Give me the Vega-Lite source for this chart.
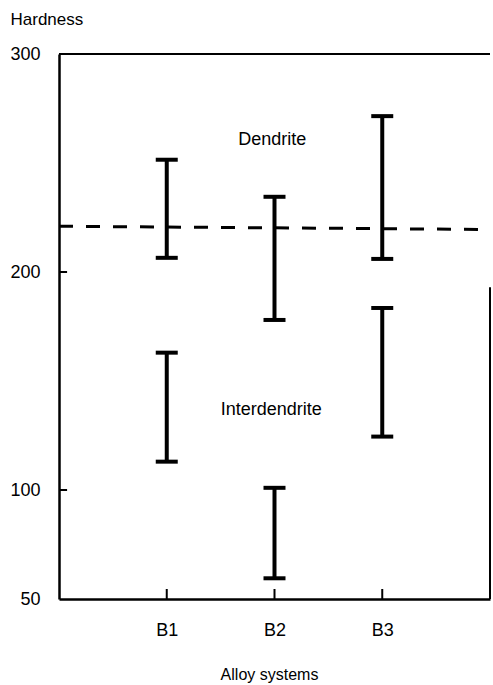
{
  "$schema": "https://vega.github.io/schema/vega-lite/v6.json",
  "width": 431,
  "height": 545,
  "autosize": "none",
  "padding": {"left": 59, "top": 54, "right": 3, "bottom": 86},
  "background": "white",
  "config": {"view": {"stroke": null}, "font": "Liberation Sans"},
  "datasets": {
    "bars": [
      {"alloy": "B1", "x": 1, "phase": "Dendrite", "low": 206.5, "high": 251.5},
      {"alloy": "B1", "x": 1, "phase": "Interdendrite", "low": 113, "high": 163},
      {"alloy": "B2", "x": 2, "phase": "Dendrite", "low": 178, "high": 234.5},
      {"alloy": "B2", "x": 2, "phase": "Interdendrite", "low": 59.5, "high": 101},
      {"alloy": "B3", "x": 3, "phase": "Dendrite", "low": 206, "high": 271.5},
      {"alloy": "B3", "x": 3, "phase": "Interdendrite", "low": 124.5, "high": 183.5}
    ],
    "boundary": [
      {"x": 0, "y": 221},
      {"x": 4, "y": 219.5}
    ],
    "labels": [
      {"x": 1.98, "y": 260.5, "text": "Dendrite"},
      {"x": 1.97, "y": 136.7, "text": "Interdendrite"}
    ],
    "frame": [
      {"x": 0, "x2": 4, "y": 300, "y2": 300},
      {"x": 4, "x2": 4, "y": 50, "y2": 193},
      {"x": 0, "x2": 0.075, "y": 100, "y2": 100},
      {"x": 0, "x2": 0.075, "y": 200, "y2": 200},
      {"x": 1, "x2": 1, "y": 50, "y2": 54.6},
      {"x": 2, "x2": 2, "y": 50, "y2": 54.6},
      {"x": 3, "x2": 3, "y": 50, "y2": 54.6}
    ]
  },
  "layer": [
    {
      "data": {"name": "bars"},
      "mark": {"type": "rule", "strokeWidth": 4, "color": "black"},
      "encoding": {
        "x": {
          "field": "x", "type": "quantitative", "title": "Alloy systems",
          "scale": {"domain": [0, 4], "nice": false, "zero": false},
          "axis": {
            "values": [1, 2, 3],
            "labelExpr": "'B' + datum.value",
            "grid": false, "ticks": false,
            "domainColor": "black", "domainWidth": 2.5,
            "labelPadding": 22, "labelFontSize": 18, "labelColor": "black",
            "titleFontSize": 16, "titleFontWeight": "normal", "titleColor": "black",
            "titleAlign": "center", "titleBaseline": "middle",
            "titleX": 210, "titleY": 75
          }
        },
        "y": {
          "field": "low", "type": "quantitative", "title": "Hardness",
          "scale": {"domain": [50, 300], "nice": false, "zero": false},
          "axis": {
            "values": [50, 100, 200, 300],
            "grid": false, "ticks": false,
            "domainColor": "black", "domainWidth": 2.5,
            "labelPadding": 19, "labelFontSize": 18, "labelColor": "black",
            "labelBaseline": "middle",
            "titleFontSize": 17, "titleFontWeight": "normal", "titleColor": "black",
            "titleAngle": 0, "titleAlign": "left", "titleBaseline": "middle",
            "titleX": -49, "titleY": -35
          }
        },
        "y2": {"field": "high"}
      }
    },
    {
      "data": {"name": "bars"},
      "mark": {"type": "tick", "orient": "horizontal", "size": 22, "thickness": 4, "color": "black", "opacity": 1},
      "encoding": {
        "x": {"field": "x", "type": "quantitative", "title": "Alloy systems"},
        "y": {"field": "low", "type": "quantitative", "title": "Hardness"}
      }
    },
    {
      "data": {"name": "bars"},
      "mark": {"type": "tick", "orient": "horizontal", "size": 22, "thickness": 4, "color": "black", "opacity": 1},
      "encoding": {
        "x": {"field": "x", "type": "quantitative", "title": "Alloy systems"},
        "y": {"field": "high", "type": "quantitative", "title": "Hardness"}
      }
    },
    {
      "data": {"name": "boundary"},
      "mark": {"type": "line", "strokeWidth": 3, "strokeDash": [14, 13], "color": "black"},
      "encoding": {
        "x": {"field": "x", "type": "quantitative", "title": "Alloy systems"},
        "y": {"field": "y", "type": "quantitative", "title": "Hardness"}
      }
    },
    {
      "data": {"name": "frame"},
      "mark": {"type": "rule", "strokeWidth": 2, "color": "black"},
      "encoding": {
        "x": {"field": "x", "type": "quantitative", "title": "Alloy systems"},
        "x2": {"field": "x2"},
        "y": {"field": "y", "type": "quantitative", "title": "Hardness"},
        "y2": {"field": "y2"}
      }
    },
    {
      "data": {"name": "labels"},
      "mark": {"type": "text", "fontSize": 18, "color": "black", "align": "center", "baseline": "middle"},
      "encoding": {
        "x": {"field": "x", "type": "quantitative", "title": "Alloy systems"},
        "y": {"field": "y", "type": "quantitative", "title": "Hardness"},
        "text": {"field": "text"}
      }
    }
  ]
}
